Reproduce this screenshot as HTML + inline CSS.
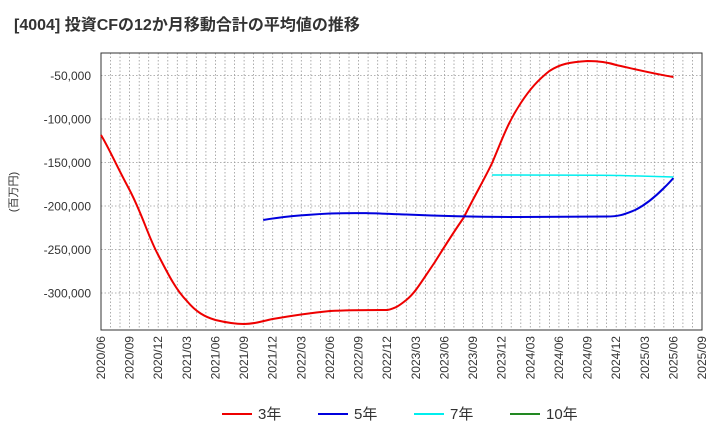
<!DOCTYPE html>
<html><head><meta charset="utf-8"><style>
body{margin:0;background:#fff;width:720px;height:440px;overflow:hidden;font-family:"Liberation Sans","Noto Sans CJK JP",sans-serif}
</style></head><body>
<svg width="720" height="440" xmlns="http://www.w3.org/2000/svg" font-family="Liberation Sans, Noto Sans CJK JP, sans-serif">
<text x="14" y="30" font-size="16" font-weight="bold" fill="#333">[4004]  投資CFの12か月移動合計の平均値の推移</text>
<g stroke="#999" stroke-width="0.8" stroke-dasharray="1.5,2" fill="none">
<path d="M101,75.5H702M101,119H702M101,162.5H702M101,206H702M101,249.5H702M101,293H702"/>
<path d="M110.5,53V330M120,53V330M129.6,53V330M139.2,53V330M148.7,53V330M158.2,53V330M167.8,53V330M177.3,53V330M186.9,53V330M196.4,53V330M205.9,53V330M215.5,53V330M225,53V330M234.6,53V330M244.1,53V330M253.6,53V330M263.2,53V330M272.7,53V330M282.3,53V330M291.8,53V330M301.3,53V330M310.9,53V330M320.4,53V330M330,53V330M339.5,53V330M349,53V330M358.6,53V330M368.1,53V330M377.7,53V330M387.2,53V330M396.7,53V330M406.3,53V330M415.8,53V330M425.4,53V330M434.9,53V330M444.4,53V330M454,53V330M463.5,53V330M473.1,53V330M482.6,53V330M492.1,53V330M501.7,53V330M511.2,53V330M520.8,53V330M530.3,53V330M539.8,53V330M549.4,53V330M558.9,53V330M568.5,53V330M578,53V330M587.5,53V330M597.1,53V330M606.6,53V330M616.2,53V330M625.7,53V330M635.2,53V330M644.8,53V330M654.3,53V330M663.9,53V330M673.4,53V330M682.9,53V330M692.5,53V330"/>
</g>
<rect x="101" y="53" width="601" height="277" fill="none" stroke="#333" stroke-width="1"/>
<g font-size="12" fill="#333" text-anchor="end">
<text x="91" y="80">-50,000</text><text x="91" y="123.5">-100,000</text><text x="91" y="167">-150,000</text><text x="91" y="210.5">-200,000</text><text x="91" y="254">-250,000</text><text x="91" y="297.5">-300,000</text>
</g>
<text transform="translate(17,192) rotate(-90)" font-size="11" fill="#333" text-anchor="middle">(百万円)</text>
<g font-size="12" fill="#333" text-anchor="end">
<text transform="translate(105,336) rotate(-90)">2020/06</text>
<text transform="translate(133.6,336) rotate(-90)">2020/09</text>
<text transform="translate(162.2,336) rotate(-90)">2020/12</text>
<text transform="translate(190.9,336) rotate(-90)">2021/03</text>
<text transform="translate(219.5,336) rotate(-90)">2021/06</text>
<text transform="translate(248.1,336) rotate(-90)">2021/09</text>
<text transform="translate(276.7,336) rotate(-90)">2021/12</text>
<text transform="translate(305.3,336) rotate(-90)">2022/03</text>
<text transform="translate(334,336) rotate(-90)">2022/06</text>
<text transform="translate(362.6,336) rotate(-90)">2022/09</text>
<text transform="translate(391.2,336) rotate(-90)">2022/12</text>
<text transform="translate(419.8,336) rotate(-90)">2023/03</text>
<text transform="translate(448.4,336) rotate(-90)">2023/06</text>
<text transform="translate(477.1,336) rotate(-90)">2023/09</text>
<text transform="translate(505.7,336) rotate(-90)">2023/12</text>
<text transform="translate(534.3,336) rotate(-90)">2024/03</text>
<text transform="translate(562.9,336) rotate(-90)">2024/06</text>
<text transform="translate(591.5,336) rotate(-90)">2024/09</text>
<text transform="translate(620.2,336) rotate(-90)">2024/12</text>
<text transform="translate(648.8,336) rotate(-90)">2025/03</text>
<text transform="translate(677.4,336) rotate(-90)">2025/06</text>
<text transform="translate(706,336) rotate(-90)">2025/09</text>
</g>
<path fill="none" stroke="#ee0000" stroke-width="2" stroke-linejoin="round" d="M101,135 C110,150 115,163 129.6,190 C143,216 148,236 158.2,255 C168,274 176,290 186.9,301 C196,312 205,317 215.5,320 C228,323 238,324 244.1,324 C256,324 262,321 272.7,319 C290,316 310,313 330,311 C350,310 370,310 387.2,310 C397,308 401,304 406.3,300 C415,293 420,284 434.9,262 C448,241 455,230 463.5,218 C475,195 485,178 492.1,163 C502,140 507,124 520.8,103 C530,89 538,80 549.4,71 C560,64 570,62 587.5,61 C600,61 610,63 616.2,65 C630,68 650,73 673.4,77"/>
<path fill="none" stroke="#0000dd" stroke-width="2" stroke-linejoin="round" d="M263.2,220 C280,217 300,215 330,213.5 C360,212.5 380,213.5 406.3,214.5 C440,216 480,217 520.8,217 C560,217 590,216.5 606.6,216.5 C620,216.5 625,214 635.2,210 C645,205 655,197 663.9,188 C667,185 670,182 673.4,178"/>
<path fill="none" stroke="#00eeee" stroke-width="1.5" d="M492.1,175 C550,175 600,175 620,175.5 C640,176 660,176.5 673.4,177"/>
<g font-size="15" fill="#333">
<line x1="222" y1="414" x2="252" y2="414" stroke="#ee0000" stroke-width="2"/><text x="258" y="419">3年</text>
<line x1="318" y1="414" x2="348" y2="414" stroke="#0000dd" stroke-width="2"/><text x="354" y="419">5年</text>
<line x1="414" y1="414" x2="444" y2="414" stroke="#00eeee" stroke-width="2"/><text x="450" y="419">7年</text>
<line x1="510" y1="414" x2="540" y2="414" stroke="#228822" stroke-width="2"/><text x="546" y="419">10年</text>
</g>
</svg>
</body></html>
